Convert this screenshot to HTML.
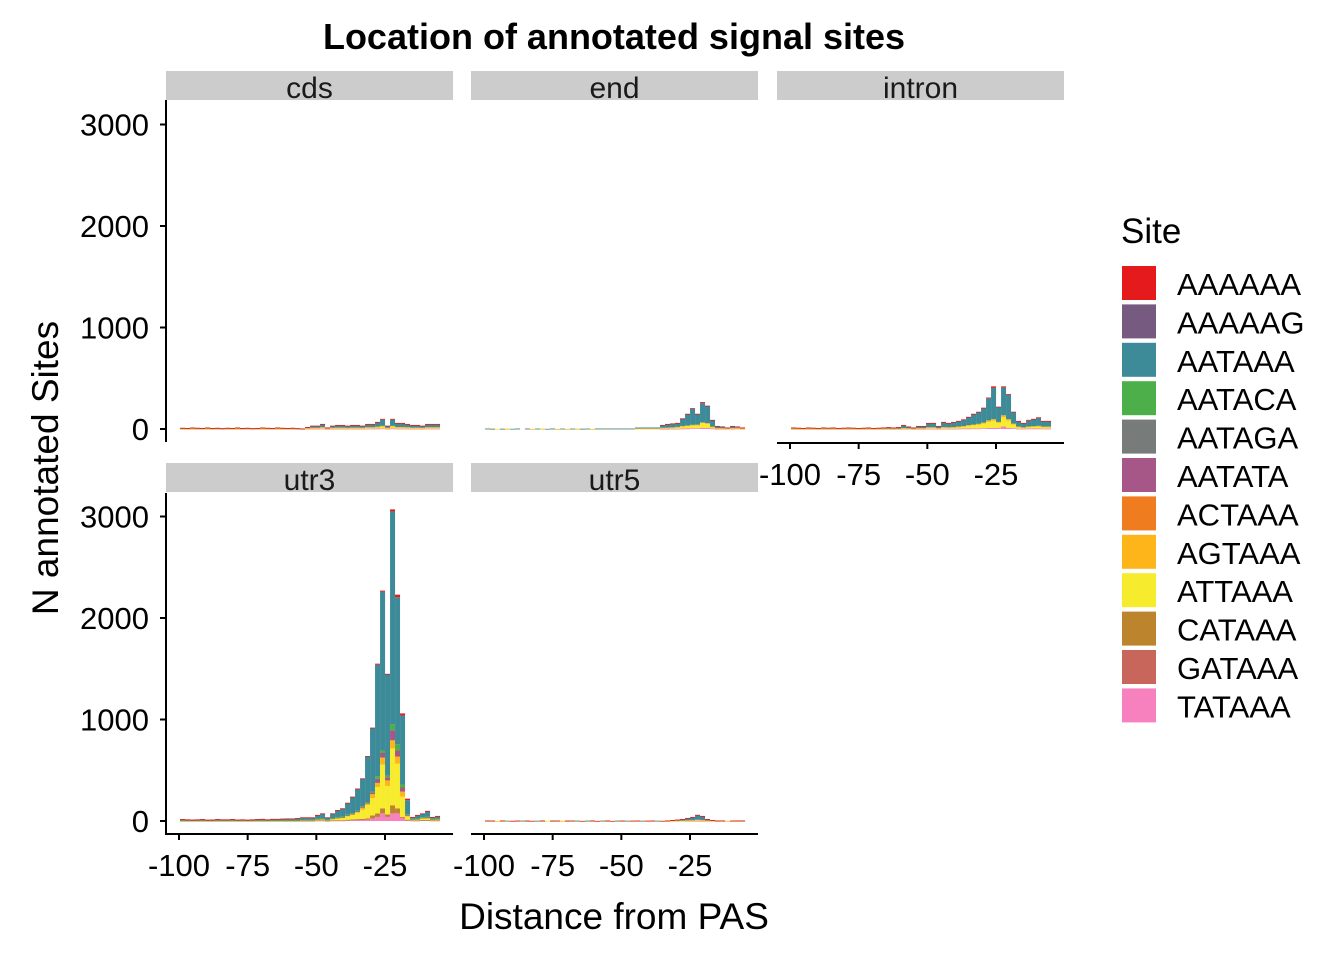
<!DOCTYPE html>
<html><head><meta charset="utf-8">
<style>
body{margin:0;background:#fff;}
svg text{font-family:"Liberation Sans",Arial,sans-serif;}
</style></head>
<body>
<svg id="chart" width="1344" height="960" xmlns="http://www.w3.org/2000/svg">
<text x="614" y="49" text-anchor="middle" font-size="36" font-weight="bold">Location of annotated signal sites</text>
<text transform="translate(58,468) rotate(-90)" text-anchor="middle" font-size="37">N annotated Sites</text>
<text x="614" y="929" text-anchor="middle" font-size="37">Distance from PAS</text>
<g id="panels"></g>
<g id="legend"></g>
</svg>
<script>
const sites = ["AAAAAA","AAAAAG","AATAAA","AATACA","AATAGA","AATATA","ACTAAA","AGTAAA","ATTAAA","CATAAA","GATAAA","TATAAA"];
const siteColors = ["#E41A1C","#765A80","#3D8A99","#4DAF4A","#777B7A","#A65687","#EF7C1E","#FDB51A","#F7EB2E","#BD842E","#C9665C","#F781BF"];
const yTicks = [0,1000,2000,3000];
const xTicks = [-100,-75,-50,-25];
const binStart = -99.6;
const binWidth = 1.82;

// utr3
const utr3_TATAAA = [2,2,2,2,2,2,2,2,2,2,2,2,2,2,2,2,2,2,2,2,2,2,2,2, 3,3,3,5,5,3,5,5,5,8,10,12, 10,15,25,40,75,40,75,75,35,10, 5,5,8,8,5,5];
const utr3_CATAAA = [1,1,1,1,1,1,1,1,1,1,1,1,1,1,1,1,1,1,1,1,1,1,1,1, 1,1,1,2,2,1,2,3,3,5,6,8, 10,12,30,35,50,25,80,50,5,3, 2,2,3,3,2,2];
const utr3_ATTAAA = [4,4,4,4,4,4,4,4,4,4,4,4,4,4,4,4,4,4,4,4,4,4,4,4, 6,6,6,10,12,6,15,20,25,35,45,60, 90,130,170,260,430,280,560,440,200,30, 8,10,15,15,8,10];
const utr3_AGTAAA = [1,1,1,1,1,1,1,1,1,1,1,1,1,1,1,1,1,1,1,1,1,1,1,1, 1,1,1,2,2,1,2,3,3,5,6,8, 20,15,40,40,70,55,80,70,50,10, 3,3,5,5,3,3];
const utr3_AATATA = [1,1,1,1,1,1,1,1,1,1,1,1,1,1,1,1,1,1,1,1,1,1,1,1, 1,1,1,2,2,1,2,3,3,5,6,8, 10,10,15,40,45,30,100,60,40,5, 2,2,3,5,2,2];
const utr3_AATACA = [1,1,1,1,1,1,1,1,1,1,1,1,1,1,1,1,1,1,1,1,1,1,1,1, 1,1,1,2,2,1,2,3,3,4,5,6, 5,5,10,25,25,15,60,60,30,10, 2,3,3,5,2,3];
const utr3_AATAAA = [8,5,3,5,8,2,3,8,5,5,8,3,5,2,5,8,10,5,10,10,12,14,14,18, 22,22,22,36,48,22,45,69,80,113,158,213, 270,448,625,1100,1565,1000,2095,1450,680,137, 15,32,35,54,15,20];
const utr3_AAAAAA = [1,1,1,1,1,1,1,1,1,1,1,1,1,1,1,1,1,1,1,1,1,1,1,1, 1,1,1,1,2,1,2,2,3,5,4,5, 5,5,5,10,10,5,20,25,20,15, 3,3,3,5,3,5];

// intron
const intron_TATAAA = [1,1,1,1,1,1,1,1,1,1,1,1,1,1,1,1,1,1,1,1,1,1, 3,2,1,2,2,3,3,2,3,3,3,4,5,5,6,6,8,10,12,10,25,12,8,4,3,5,5,5,4,4];
const intron_ATTAAA = [2,2,2,2,2,2,2,2,2,2,2,2,2,2,2,2,2,2,2,2,2,2, 5,3,2,5,5,10,10,5,12,10,12,15,18,25,30,35,45,60,70,50,90,70,35,15,10,15,18,20,15,15];
const intron_AGTAAA = [1,1,1,1,1,1,1,1,1,1,1,1,1,1,1,1,1,1,1,1,1,1, 2,2,1,2,2,4,4,2,4,4,4,5,6,8,8,10,10,15,15,10,20,15,10,5,3,5,5,6,5,5];
const intron_AATAAA = [10,7,5,10,7,5,10,7,10,5,7,10,7,5,7,10,5,7,10,13,10,15, 27,17,10,19,19,40,40,19,48,40,48,53,63,77,101,113,141,217,308,145,275,240,109,53,41,57,67,79,53,53];
const intron_AAAAAA = [1,1,1,1,1,1,1,1,1,1,1,1,1,1,1,1,1,1,1,1,1,1, 3,1,1,2,2,3,3,2,3,3,3,3,3,5,5,6,6,8,15,5,10,8,8,3,3,8,5,5,3,3];

// end
const end_TATAAA = [0,0,0,0,0,0,0,0,0,0,0,0,0,0,0,0,0,0,0,0,0,0,0, 0,0,0,0,0,0,0,0,0,0,0,0, 2,2,3,3,5,5,8,8,12,10,5,2,2,2,3,5,2];
const end_ATTAAA = [2,0,2,0,2,0,2,0,2,0,2,2,0,2,0,2,0,2,2,0,2,0,2, 3,3,3,3,3,3,3,5,5,5,5,5, 8,8,10,15,20,25,25,30,45,40,15,5,5,3,5,5,3];
const end_AGTAAA = [1,1,0,1,1,0,1,0,1,1,0,1,0,1,1,0,1,0,1,1,0,1,1, 1,1,1,1,1,1,1,1,1,1,1,1, 2,3,3,3,5,5,8,5,8,8,3,2,2,2,2,2,2];
const end_AATAAA = [2,2,0,2,0,2,2,0,2,0,2,0,2,2,0,2,0,2,0,2,2,0,2, 1,1,1,1,1,1,1,9,9,9,9,9, 25,36,36,37,72,112,161,105,190,169,64,18,14,7,17,11,7];
const end_AAAAAA = [0,0,0,0,0,0,0,0,0,0,0,0,0,0,0,0,0,0,0,0,0,0,0, 0,0,0,0,0,0,0,0,0,0,0,0, 3,1,3,2,3,3,3,2,10,3,3,3,2,1,3,2,1];

// cds
const cds_TATAAA = [1,1,1,1,1,1,1,1,1,1,1,1,1,1,1,1,1,1,1,1,1,1,1,1, 0,2,3,3,4,1,3,3,3,3,3,3,3,4,4,5,6,3,6,4,4,4,3,3,3,4,4,4];
const cds_ATTAAA = [2,2,2,2,2,2,2,2,2,2,2,2,2,2,2,2,2,2,2,2,2,2,2,2, 1,3,5,5,8,5,5,6,6,5,6,6,5,8,8,10,15,5,15,10,10,8,6,6,5,8,8,8];
const cds_AGTAAA = [2,2,2,2,2,2,2,2,2,2,2,2,2,2,2,2,2,2,2,2,2,2,2,2, 1,3,4,4,6,2,4,5,5,4,5,5,4,6,6,8,10,4,10,6,6,6,5,5,4,6,6,6];
const cds_AATAAA = [5,3,8,5,3,8,3,5,1,5,3,8,3,5,1,3,8,5,3,8,5,3,5,1, 2,10,18,18,28,5,18,22,22,18,22,22,18,28,28,41,61,18,61,35,35,28,22,22,18,28,28,28];
const cds_AAAAAA = [2,2,2,2,2,2,2,2,2,2,2,2,2,2,2,2,2,2,2,2,2,2,2,2, 1,2,3,3,4,2,3,4,4,3,4,4,3,4,4,6,8,3,8,5,5,4,4,4,3,4,4,4];

// utr5
const utr5_TATAAA = [0,0,0,0,0,0,0,0,0,0,0,0,0,0,0,0,0,0,0,0,0,0,0,0,0,0,0,0,0,0,0,0,0,0,0,0,0,0,0,0, 1,1,2,1,1, 0,0,0,0,0,0,0];
const utr5_ATTAAA = [1,1,0,1,1,0,1,1,0,1,0,1,1,0,1,1,0,1,1,0,1,1,0,1,1,0,1,1,0,1,1,0,1,1,0,1,1, 2,2,3,4,5,8,6,3,2,1,1,0,1,1,1];
const utr5_AGTAAA = [1,0,1,1,0,1,0,1,1,0,1,1,0,1,0,1,1,0,1,0,1,1,0,1,1,0,1,0,1,1,0,1,1,0,1,0,1, 1,1,1,2,2,3,3,1,1,1,1,1,0,1,1];
const utr5_AATAAA = [2,2,0,2,2,0,2,2,2,0,2,2,0,2,2,0,2,2,2,0,2,2,0,2,2,0,2,2,2,0,2,2,0,2,2,0,2, 6,10,14,22,30,45,38,14,6,2,2,0,2,2,2];
const utr5_AAAAAA = [1,1,0,1,0,1,1,0,1,1,0,1,0,1,1,0,1,1,0,1,0,1,1,0,1,1,0,1,0,1,1,0,1,1,0,1,1, 1,1,1,1,2,3,2,1,1,1,1,0,1,1,1];

const panels = [
  {name:"cds", x0:166, y0:100, strip:71, xShift:0, yAxis:true, xAxis:false, zeroY:429,
   series:{TATAAA:cds_TATAAA,ATTAAA:cds_ATTAAA,AGTAAA:cds_AGTAAA,AATAAA:cds_AATAAA,AAAAAA:cds_AAAAAA}},
  {name:"end", x0:471, y0:100, strip:71, xShift:305, yAxis:false, xAxis:false, zeroY:429,
   series:{TATAAA:end_TATAAA,ATTAAA:end_ATTAAA,AGTAAA:end_AGTAAA,AATAAA:end_AATAAA,AAAAAA:end_AAAAAA}},
  {name:"intron", x0:777, y0:100, strip:71, xShift:611, yAxis:false, xAxis:true, zeroY:429,
   series:{TATAAA:intron_TATAAA,ATTAAA:intron_ATTAAA,AGTAAA:intron_AGTAAA,AATAAA:intron_AATAAA,AAAAAA:intron_AAAAAA}},
  {name:"utr3", x0:166, y0:493, strip:463, xShift:0, yAxis:true, xAxis:true, zeroY:821,
   series:{TATAAA:utr3_TATAAA,CATAAA:utr3_CATAAA,ATTAAA:utr3_ATTAAA,AGTAAA:utr3_AGTAAA,AATATA:utr3_AATATA,AATACA:utr3_AATACA,AATAAA:utr3_AATAAA,AAAAAA:utr3_AAAAAA}},
  {name:"utr5", x0:471, y0:493, strip:463, xShift:305, yAxis:false, xAxis:true, zeroY:821,
   series:{TATAAA:utr5_TATAAA,ATTAAA:utr5_ATTAAA,AGTAAA:utr5_AGTAAA,AATAAA:utr5_AATAAA,AAAAAA:utr5_AAAAAA}}
];

const NS = "http://www.w3.org/2000/svg";
function mk(tag, attrs, parent){const e=document.createElementNS(NS,tag);for(const k in attrs)e.setAttribute(k,attrs[k]);parent.appendChild(e);return e;}
const pxPerUnit = 206/75;
function xScale(v, shift){return 179 + shift + (v + 100) * pxPerUnit;}
function yScale(v, zero){return zero - v * 0.1015;}

const root = document.getElementById("panels");
const stackOrder = sites.slice().reverse();
panels.forEach(p=>{
  const g = mk("g",{},root);
  
  
  const strip = mk("rect",{x:p.x0,y:p.strip,width:287,height:29,fill:"#cccccc"},g);
  
  
  const st = mk("text",{x:p.x0+143.5,y:p.strip+27,"text-anchor":"middle","font-size":"30",fill:"#1a1a1a"},g);
  st.textContent = p.name;
  
  
  const n = p.series.AATAAA.length;
  for(let i=0;i<n;i++){
    let cum = 0;
    stackOrder.forEach(s=>{
      const arr = p.series[s];
      if(!arr) return;
      const v = arr[i];
      if(!v) return;
      const x1 = xScale(binStart + i*binWidth, p.xShift);
      const x2 = xScale(binStart + (i+1)*binWidth, p.xShift);
      const yTop = yScale(cum+v, p.zeroY), yBot = yScale(cum, p.zeroY);
      const r = mk("rect",{x:x1,y:yTop,width:x2-x1,height:Math.max(yBot-yTop,0.8),fill:siteColors[sites.indexOf(s)]},g);
      
      
      cum += v;
    });
  }
  const bottom = p.y0 + 341;
  if(p.yAxis){
    const ax = mk("line",{x1:p.x0,y1:p.y0,x2:p.x0,y2:bottom+1,stroke:"#000","stroke-width":2},g);
    
    
    yTicks.forEach(t=>{
      const y = yScale(t, p.zeroY);
      mk("line",{x1:p.x0-6,y1:y,x2:p.x0,y2:y,stroke:"#000","stroke-width":2},g);
      const tl = mk("text",{x:p.x0-17,y:y+11,"text-anchor":"end","font-size":"31"},g);
      tl.textContent = t;
      
      
    });
  }
  if(p.xAxis){
    const axY = p.name==="intron" ? 443 : bottom;
    const ax = mk("line",{x1:p.x0,y1:axY,x2:p.x0+287,y2:axY,stroke:"#000","stroke-width":2},g);
    
    
    xTicks.forEach(t=>{
      const x = xScale(t, p.xShift);
      mk("line",{x1:x,y1:axY,x2:x,y2:axY+6,stroke:"#000","stroke-width":2},g);
      const tl = mk("text",{x:x,y:axY+42,"text-anchor":"middle","font-size":"31"},g);
      tl.textContent = t;
      
      
    });
  }
});

const lg = document.getElementById("legend");
const lt = mk("text",{x:1121,y:243,"font-size":"35"},lg);
lt.textContent = "Site";


sites.forEach((s,i)=>{
  const y = 266 + i*38.4;
  const e = mk("g",{},lg);
  
  
  mk("rect",{x:1122,y:y,width:34,height:34,fill:siteColors[i]},e);
  const t = mk("text",{x:1177,y:y+29,"font-size":"31"},e);
  t.textContent = s;
});
</script>
</body></html>
